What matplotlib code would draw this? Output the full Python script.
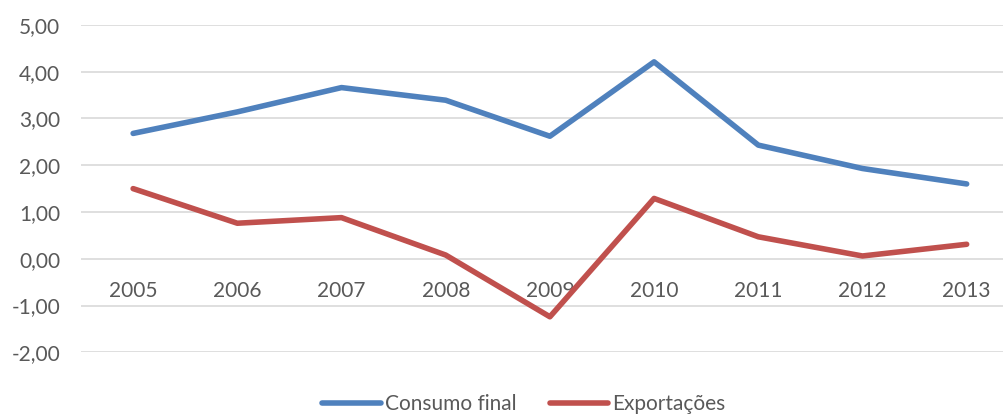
import numpy as np
import matplotlib
matplotlib.use('Agg')
import matplotlib.pyplot as plt
from matplotlib.ticker import FuncFormatter

plt.rcParams['font.family'] = ['Lato', 'DejaVu Sans']

# annual growth rates (%)
anos = ['2005', '2006', '2007', '2008', '2009', '2010', '2011', '2012', '2013']
consumo_final = [2.68, 3.14, 3.66, 3.39, 2.62, 4.21, 2.43, 1.93, 1.60]
exportacoes = [1.50, 0.76, 0.88, 0.08, -1.24, 1.29, 0.47, 0.06, 0.31]

cor_texto = '#595959'
cor_grade = '#D9D9D9'
fs = 15

fig = plt.figure(figsize=(10.04, 4.15), dpi=100)
ax = fig.add_axes([0.0807, 0.151, 0.934, 0.789])

x = np.arange(len(anos))
ax.plot(x, consumo_final, color='#4F81BD', lw=4, solid_capstyle='round',
        solid_joinstyle='round', label='Consumo final', zorder=3)
ax.plot(x, exportacoes, color='#C0504D', lw=4, solid_capstyle='round',
        solid_joinstyle='round', label='Exportações', zorder=3)

ax.set_xlim(-0.5, len(anos) - 0.5)
ax.set_ylim(-2, 5)
ax.set_yticks(np.arange(-2, 6, 1))
ax.yaxis.set_major_formatter(FuncFormatter(lambda v, p: f'{v:.2f}'.replace('.', ',')))
ax.grid(axis='y', color=cor_grade, lw=1.2, zorder=0)
ax.set_axisbelow(True)

for s in ['top', 'right', 'left']:
    ax.spines[s].set_visible(False)
ax.spines['bottom'].set_position(('data', 0))
ax.spines['bottom'].set_visible(False)

ax.set_xticks(x)
ax.set_xticklabels(anos)
ax.tick_params(axis='x', length=0, pad=16, labelsize=fs, labelcolor=cor_texto)
ax.tick_params(axis='y', length=0, pad=15, labelsize=fs, labelcolor=cor_texto)

fig.legend(loc='center', bbox_to_anchor=(0.522, 0.027), ncol=2, frameon=False,
           fontsize=fs, labelcolor=cor_texto, handlelength=2.8,
           handletextpad=0.2, columnspacing=1.6)

fig.savefig('out.png', dpi=100)
